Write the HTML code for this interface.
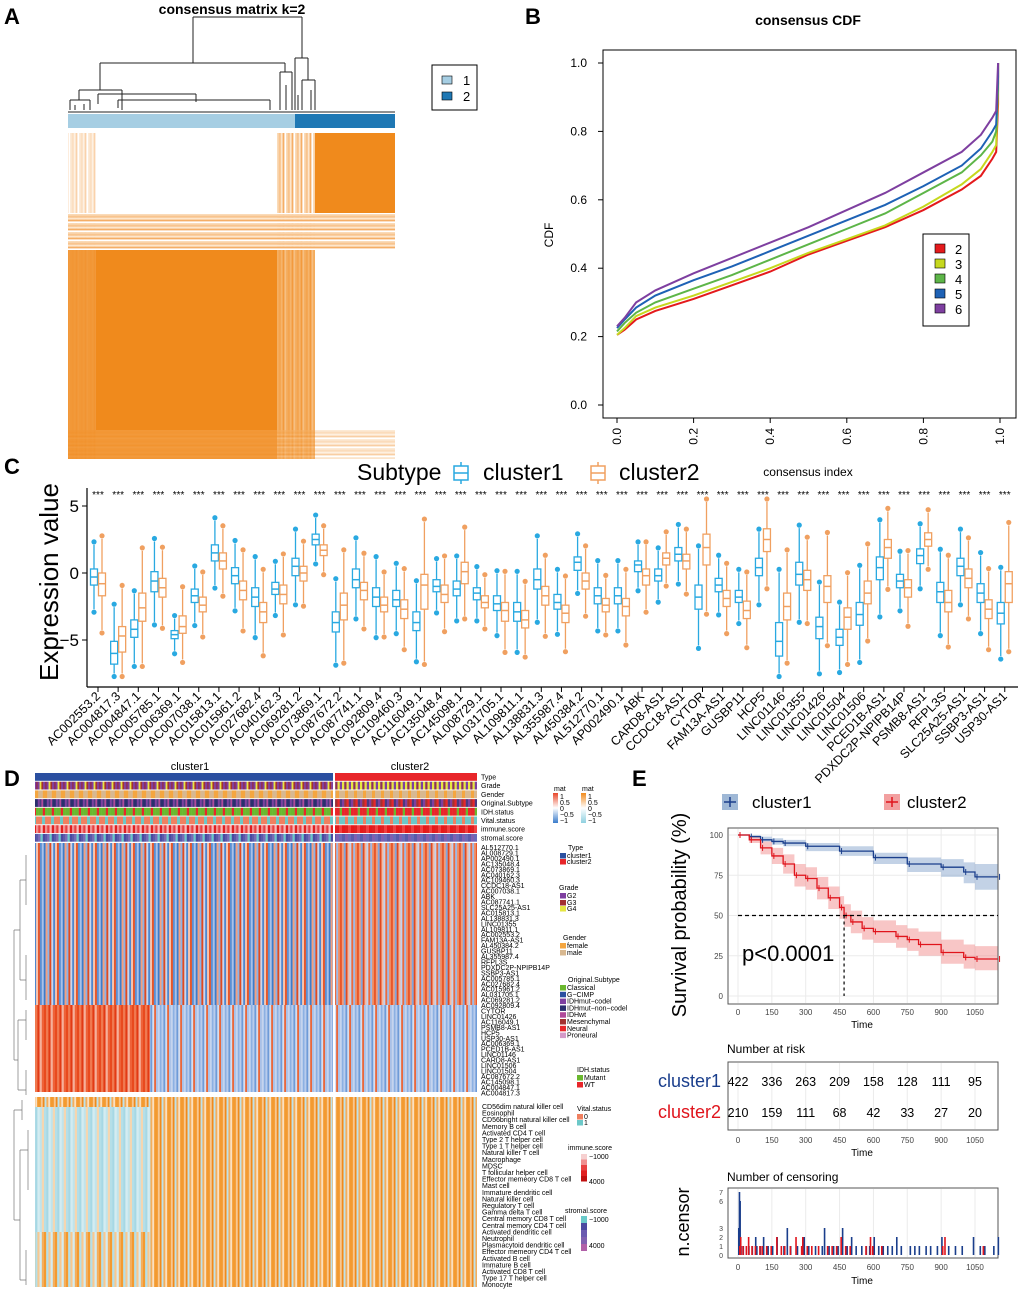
<!DOCTYPE html>
<html><head><meta charset="utf-8"><style>
body{margin:0;background:#fff}
svg{display:block;font-family:"Liberation Sans",sans-serif}
</style></head><body>
<svg id="fig" width="1020" height="1292" viewBox="0 0 1020 1292" xmlns="http://www.w3.org/2000/svg">
<defs id="defs"></defs>
<!-- Panel labels -->
<g font-weight="bold" font-size="22">
<text x="4" y="24">A</text>
<text x="525" y="24">B</text>
<text x="4" y="474">C</text>
<text x="4" y="786">D</text>
<text x="632" y="786">E</text>
</g>

<!-- Panel A -->
<g id="panelA">
<text x="232" y="14" text-anchor="middle" font-weight="bold" font-size="14">consensus matrix k=2</text>
<g stroke="#222" stroke-width="1" fill="none">
<path d="M193,17 H302 M193,17 V63 M302,17 V58"/>
<path d="M100,63 H285 M100,63 V90 M285,63 V72"/>
<path d="M79,90 H122 M79,90 V100 M122,90 V110"/>
<path d="M98,94 H196 M98,94 V104 M196,94 V102 M118,100 H270 M118,100 V108 M270,100 V110"/>
<path d="M295,58 H308 M295,58 V110 M308,58 V80 M302,80 H315 M302,80 V110 M315,80 V110"/>
<path d="M280,72 H292 M280,72 V110 M292,72 V110 M286,85 V110 M311,90 V110 M298,95 V110"/>
<path d="M70,100 H90 M70,100 V110 M90,100 V110 M75,105 V110 M84,104 V110"/>
<path d="M68,112 H395"/>
</g>
<rect x="68" y="114" width="227" height="14" fill="#A6CEE3"/>
<rect x="295" y="114" width="100" height="14" fill="#1F78B4"/>
<g>
<rect x="68" y="133" width="327" height="326" fill="#fff"/>
<rect x="68" y="133" width="28" height="326" fill="url(#pFr)" opacity="0.55"/>
<rect x="277" y="133" width="38" height="326" fill="url(#pFr)"/>
<rect x="68" y="213" width="327" height="37" fill="url(#pFrH)"/>
<rect x="68" y="430" width="327" height="29" fill="url(#pFrH)" opacity="0.6"/>
<rect x="315" y="133" width="80" height="80" fill="#F08A1C"/>
<rect x="96" y="250" width="181" height="180" fill="#F08A1C"/>
<rect x="68" y="250" width="28" height="180" fill="#F08A1C" opacity="0.85"/>
<rect x="68" y="430" width="209" height="29" fill="#F08A1C" opacity="0.85"/>
<rect x="277" y="250" width="38" height="209" fill="#F08A1C" opacity="0.55"/>
</g>
<g>
<rect x="432" y="65" width="45" height="45" fill="#fff" stroke="#000"/>
<rect x="442" y="76" width="10" height="8" fill="#A6CEE3" stroke="#000" stroke-width="0.6"/>
<rect x="442" y="92" width="10" height="8" fill="#1F78B4" stroke="#000" stroke-width="0.6"/>
<text x="463" y="85" font-size="13">1</text><text x="463" y="101" font-size="13">2</text>
</g>
</g>

<!-- Panel B -->
<g id="panelB">
<text x="808" y="25" text-anchor="middle" font-weight="bold" font-size="14">consensus CDF</text>
<rect x="603" y="50" width="413" height="368" fill="none" stroke="#000"/>
<text transform="translate(553,235) rotate(-90)" text-anchor="middle" font-size="12">CDF</text>
<text x="808" y="476" text-anchor="middle" font-size="12">consensus index</text>
<g id="cdfAxes"></g><g id="cdfLines"></g>
<g id="cdfLegend">
<rect x="923" y="234" width="46" height="92" fill="#fff" stroke="#000"/>
</g>
</g>

<!-- Panel C -->
<g id="panelC">
<g font-size="23">
<text x="357" y="480">Subtype</text>
<g><line x1="461" y1="462" x2="461" y2="484" stroke="#29A9E1" stroke-width="1.5"/><rect x="454" y="466" width="14" height="14" fill="#fff" stroke="#29A9E1" stroke-width="1.5"/><line x1="454" y1="473" x2="468" y2="473" stroke="#29A9E1" stroke-width="1.5"/><text x="483" y="480">cluster1</text></g>
<g><line x1="598" y1="462" x2="598" y2="484" stroke="#F0A060" stroke-width="1.5"/><rect x="591" y="466" width="14" height="14" fill="#fff" stroke="#F0A060" stroke-width="1.5"/><line x1="591" y1="473" x2="605" y2="473" stroke="#F0A060" stroke-width="1.5"/><text x="619" y="480">cluster2</text></g>
</g>
<text transform="translate(58,582) rotate(-90)" text-anchor="middle" font-size="26">Expression value</text>
<g id="boxAxes"></g><g id="boxes"></g>
</g>

<!-- Panel D -->
<g id="panelD">
<text x="190" y="770" text-anchor="middle" font-size="11">cluster1</text>
<text x="410" y="770" text-anchor="middle" font-size="11">cluster2</text>
<g id="annRows"></g>
<g>
<rect x="35" y="843" width="298" height="162" fill="url(#pMix1)"/>
<rect x="335" y="843" width="142" height="162" fill="url(#pMix2)"/>
<rect x="35" y="1005" width="115" height="87" fill="url(#pRed)"/>
<rect x="150" y="1005" width="183" height="87" fill="url(#pBlue)"/>
<rect x="335" y="1005" width="142" height="87" fill="url(#pBlue)"/>
</g>
<g>
<rect x="35" y="1097" width="115" height="10" fill="url(#pOr)"/>
<rect x="35" y="1107" width="115" height="125" fill="url(#pCy)"/>
<rect x="35" y="1232" width="115" height="55" fill="url(#pOrCy)"/>
<rect x="150" y="1097" width="183" height="190" fill="url(#pOr)"/>
<rect x="335" y="1097" width="142" height="190" fill="url(#pOr)"/>
</g>
<g stroke="#777" stroke-width="0.7" fill="none">
<path d="M14,930 V1060 M14,930 H20 M14,1060 H18 M20,880 V980 M20,880 H26 M20,980 H26 M26,855 V905 M26,955 V1000 M18,1020 V1090 M18,1020 H26 M18,1090 H26 M26,1010 V1040 M26,1070 V1095"/>
<path d="M14,1110 V1220 M14,1110 H22 M14,1220 H20 M22,1100 V1120 M20,1150 V1280 M20,1150 H28 M20,1280 H26 M28,1130 V1190 M26,1250 V1285"/>
</g>
<g id="dLabels" font-size="7"></g>
<g id="dLegend" font-size="7"></g>
</g>

<!-- Panel E -->
<g id="panelE">
<g font-size="17">
<rect x="722" y="794" width="16" height="16" fill="#9FB8D6"/><line x1="724" y1="802" x2="736" y2="802" stroke="#1A3E8C" stroke-width="1.5"/><line x1="730" y1="797" x2="730" y2="807" stroke="#1A3E8C" stroke-width="1.5"/>
<text x="752" y="808">cluster1</text>
<rect x="884" y="794" width="16" height="16" fill="#F2A0A0"/><line x1="886" y1="802" x2="898" y2="802" stroke="#E0141C" stroke-width="1.5"/><line x1="892" y1="797" x2="892" y2="807" stroke="#E0141C" stroke-width="1.5"/>
<text x="907" y="808">cluster2</text>
</g>
<text transform="translate(686,915) rotate(-90)" text-anchor="middle" font-size="20">Survival probability (%)</text>
<g id="kmPlot"></g>
<text x="727" y="1053" font-size="12">Number at risk</text>
<g id="riskTable"></g>
<text x="727" y="1181" font-size="12">Number of censoring</text>
<text transform="translate(689,1222) rotate(-90)" text-anchor="middle" font-size="18">n.censor</text>
<g id="censorPlot"></g>
</g>
</svg>
<script>
const NS='http://www.w3.org/2000/svg';
function mk(tag,attrs,parent){const e=document.createElementNS(NS,tag);for(const k in attrs)e.setAttribute(k,attrs[k]);if(parent)parent.appendChild(e);return e;}

// ===== Panel B data =====
const cdfX=[0,0.02,0.05,0.1,0.2,0.3,0.4,0.5,0.6,0.7,0.8,0.9,0.95,0.98,0.99,0.995];
const cdfK2=[0.205,0.22,0.25,0.275,0.31,0.35,0.39,0.44,0.48,0.52,0.57,0.63,0.67,0.72,0.74,0.88];
const cdfK3=[0.205,0.225,0.26,0.285,0.32,0.36,0.4,0.445,0.485,0.525,0.58,0.645,0.69,0.74,0.76,0.92];
const cdfK4=[0.215,0.24,0.27,0.3,0.34,0.38,0.425,0.47,0.515,0.56,0.62,0.68,0.73,0.77,0.8,0.94];
const cdfK5=[0.225,0.25,0.285,0.32,0.365,0.405,0.45,0.495,0.54,0.585,0.64,0.7,0.75,0.8,0.82,0.96];
const cdfK6=[0.23,0.255,0.3,0.335,0.385,0.43,0.475,0.52,0.57,0.62,0.68,0.74,0.79,0.84,0.86,1.0];
const cdfKs=['2','3','4','5','6'];
const cdfTicks=[0,0.2,0.4,0.6,0.8,1.0];
const cdfTickLabels=['0.0','0.2','0.4','0.6','0.8','1.0'];

// ===== Panel C data =====
const genes=['AC002553.2','AC004817.3','AC004847.1','AC005785.1','AC006369.1','AC007038.1','AC015813.1','AC015961.2','AC027682.4','AC040162.3','AC069281.2','AC073869.1','AC087672.2','AC087741.1','AC092809.4','AC109460.3','AC116049.1','AC135048.4','AC145098.1','AL008729.1','AL031705.1','AL109811.1','AL138831.3','AL355987.4','AL450384.2','AL512770.1','AP002490.1','ABK','CARD8-AS1','CCDC18-AS1','CYTOR','FAM13A-AS1','GUSBP11','HCP5','LINC01146','LINC01355','LINC01426','LINC01504','LINC01506','PCED1B-AS1','PDXDC2P-NPIPB14P','PSMB8-AS1','RFPL3S','SLC25A25-AS1','SSBP3-AS1','USP30-AS1'];
const med1=[-0.3,-6,-4.2,-0.6,-4.6,-1.7,1.5,-0.2,-1.8,-1.2,0.5,2.5,-3.7,-0.5,-1.8,-2.0,-3.7,-1.0,-1.2,-1.5,-2.3,-2.9,-0.5,-2.2,0.8,-1.7,-1.7,0.6,-0.2,1.4,-1.8,-0.9,-1.8,0.4,-5.1,-0.1,-4.0,-4.8,-3.1,0.4,-0.6,1.3,-1.4,0.5,-1.5,-3.0];
const med2=[-0.8,-4.7,-2.6,-1.1,-4.0,-2.4,0.9,-1.3,-2.9,-1.6,0,1.7,-2.4,-1.3,-2.4,-2.7,-0.9,-1.6,0.1,-2.2,-2.8,-3.5,-1.7,-3.0,-0.6,-2.4,-2.5,-0.2,1.1,0.9,1.9,-1.9,-2.8,2.5,-2.5,-0.5,-1.0,-3.3,-1.5,1.9,-1.1,2.5,-2.2,-0.4,-2.7,-0.8];
const q1c1=[-0.9,-6.8,-4.8,-1.4,-4.9,-2.2,0.9,-0.8,-2.5,-1.6,-0.2,2.1,-4.4,-1.1,-2.5,-2.5,-4.3,-1.4,-1.7,-2.0,-2.8,-3.6,-1.2,-2.7,0.2,-2.3,-2.3,0.1,-0.6,0.9,-2.7,-1.4,-2.2,-0.2,-6.2,-0.9,-4.9,-5.4,-3.9,-0.5,-1.1,0.7,-2.2,-0.2,-2.2,-3.8];
const q3c1=[0.3,-5.1,-3.5,0.1,-4.3,-1.2,2.1,0.4,-1.1,-0.7,1.1,2.9,-2.9,0.3,-1.1,-1.3,-2.9,-0.5,-0.6,-1.1,-1.7,-2.2,0.3,-1.6,1.2,-1.1,-1.1,0.9,0.3,1.9,-0.9,-0.4,-1.3,1.1,-3.7,0.8,-3.3,-4.2,-2.2,1.2,-0.1,1.8,-0.7,1.1,-0.8,-2.2];
const q1c2=[-1.7,-5.9,-3.6,-1.8,-4.5,-2.9,0.3,-2.0,-3.7,-2.3,-0.6,1.3,-3.5,-2.0,-2.9,-3.4,-2.7,-2.2,-0.8,-2.6,-3.6,-4.1,-2.4,-3.7,-1.2,-2.9,-3.2,-0.9,0.6,0.3,0.6,-2.5,-3.4,1.6,-3.5,-1.3,-2.2,-4.2,-2.3,1.1,-1.8,2.0,-2.9,-1.1,-3.4,-2.2];
const q3c2=[0.0,-4.0,-1.5,-0.4,-3.2,-1.8,1.5,-0.6,-2.2,-0.9,0.5,2.1,-1.5,-0.7,-1.8,-2.0,-0.1,-0.9,0.8,-1.7,-2.2,-2.8,-1.0,-2.4,0.0,-1.9,-1.9,0.3,1.5,1.4,2.9,-1.3,-2.1,3.3,-1.5,0.2,-0.2,-2.6,-0.6,2.5,-0.5,3.0,-1.3,0.3,-2.0,0.1];
const yTicksC=[-5,0,5];

// ===== Panel E data =====
const kmT1=[0,50,100,150,200,300,450,600,750,900,1000,1050,1150];
const kmS1=[100,99,97,96,95,93,90,86,82,80,77,74,74];
const kmLo1=[100,98,96,94,93,90,87,82,77,74,70,66,66];
const kmHi1=[100,100,99,98,97,95,93,89,86,85,83,82,82];
const kmT2=[0,50,100,150,200,250,300,350,400,450,470,500,550,600,700,750,800,900,1000,1050,1150];
const kmS2=[100,97,92,87,82,75,73,67,61,55,50,46,42,40,37,35,32,27,24,23,23];
const kmLo2=[100,95,88,82,76,68,66,60,54,48,43,39,35,33,30,28,25,20,17,16,16];
const kmHi2=[100,99,96,92,88,82,80,74,68,62,57,53,49,47,44,42,40,35,32,31,31];
const timeTicks=[0,150,300,450,600,750,900,1050];
const survTicks=[0,25,50,75,100];
const risk1=[422,336,263,209,158,128,111,95];
const risk2=[210,159,111,68,42,33,27,20];
const cens1T=[0,3,6,10,20,45,60,75,80,95,110,130,150,170,200,215,230,260,290,310,340,370,380,400,420,440,460,480,500,520,545,565,580,600,620,640,660,680,700,720,760,780,800,830,850,880,900,930,960,990,1040,1070,1090,1130,1150];
const cens1N=[3,7,6,1,1,1,1,2,1,1,2,1,1,2,1,3,1,1,2,1,1,1,3,1,1,1,3,1,2,1,1,1,1,2,1,1,1,1,2,1,1,1,1,1,1,1,2,1,1,1,2,1,1,1,2];
const cens2T=[1,5,15,30,40,55,70,90,100,120,140,165,185,200,225,250,275,280,300,320,350,390,410,430,450,470,490,560,580,590,630,900,910,1080];
const cens2N=[1,2,1,1,2,1,1,1,1,1,1,2,1,1,1,2,1,2,1,1,1,1,1,1,2,1,1,1,2,1,1,1,2,1];

// ===== Panel B draw =====
(function(){
 const ax=document.getElementById('cdfAxes'), ln=document.getElementById('cdfLines');
 const X=v=>617+v*383, Y=v=>405-v*342;
 const cols=['#E41A1C','#C6D81E','#5DB548','#1E62B5','#7E3FA0'];
 cdfTicks.forEach((t,i)=>{
  const l=mk('line',{x1:X(t),x2:X(t),y1:418,y2:423,stroke:'#000'},ax);
  
  const tx=mk('text',{transform:`translate(${X(t)+4},428) rotate(-90)`,'text-anchor':'end','font-size':'12'},ax);tx.textContent=cdfTickLabels[i];
  
  const l2=mk('line',{x1:598,x2:603,y1:Y(t),y2:Y(t),stroke:'#000'},ax);
  
  const ty=mk('text',{x:587,y:Y(t)+4,'text-anchor':'end','font-size':'12'},ax);ty.textContent=cdfTickLabels[i];
  
 });
 [cdfK2,cdfK3,cdfK4,cdfK5,cdfK6].forEach((s,k)=>{
  let d='';cdfX.forEach((x,i)=>{d+=(i?'L':'M')+X(x)+','+Y(s[i]);});
  d+='L'+X(0.995)+','+Y(1.0);
  const p=mk('path',{d:d,fill:'none',stroke:cols[k],'stroke-width':'2'},ln);
  
  const lg=document.getElementById('cdfLegend');
  const r=mk('rect',{x:935,y:244+k*15,width:10,height:9,fill:cols[k],stroke:'#000','stroke-width':'0.6'},lg);
  
  const t=mk('text',{x:955,y:254+k*15,'font-size':'13'},lg);t.textContent=cdfKs[k];
  
 });
})();

// ===== Panel C draw =====
(function(){
 const ax=document.getElementById('boxAxes'), g=document.getElementById('boxes');
 const X=i=>98+i*20.15, Y=v=>573-v*13.4;
 mk('line',{x1:87,x2:87,y1:488,y2:687,stroke:'#000','stroke-width':'1.2'},ax);
 mk('line',{x1:87,x2:1018,y1:687,y2:687,stroke:'#000','stroke-width':'1.2'},ax);
 yTicksC.forEach(t=>{
  const l=mk('line',{x1:82,x2:87,y1:Y(t),y2:Y(t),stroke:'#000'},ax);
  
  const tx=mk('text',{x:79,y:Y(t)+6,'text-anchor':'end','font-size':'17'},ax);tx.textContent=t===-5?'\u22125':String(t);
  
 });
 genes.forEach((gn,i)=>{
  const x=X(i);
  mk('line',{x1:x,x2:x,y1:687,y2:692,stroke:'#000'},ax);
  const tx=mk('text',{transform:`translate(${x+3},697) rotate(-45)`,'text-anchor':'end','font-size':'12.5'},ax);tx.textContent=gn;
  
  const st=mk('text',{x:x,y:498,'text-anchor':'middle','font-size':'10'},ax);st.textContent='***';
  
  [[med1,q1c1,q3c1,-4,'#29A9E1'],[med2,q1c2,q3c2,4,'#F0A060']].forEach(([m,q1,q3,off,c],k)=>{
   const cx=x+off, iqr=q3[i]-q1[i];
   const wl=Math.max(q1[i]-1.5*iqr,-7.5), wh=Math.min(q3[i]+1.5*iqr,5.3);
   const bg=mk('g',{},g);
   
   mk('line',{x1:cx,x2:cx,y1:Y(wh),y2:Y(wl),stroke:c,'stroke-width':'1.3'},bg);
   mk('rect',{x:cx-3.5,y:Y(q3[i]),width:7,height:Y(q1[i])-Y(q3[i]),fill:'#fff',stroke:c,'stroke-width':'1.3'},bg);
   mk('line',{x1:cx-3.5,x2:cx+3.5,y1:Y(m[i]),y2:Y(m[i]),stroke:c,'stroke-width':'1.5'},bg);
   mk('circle',{cx:cx,cy:Y(wl)+3,r:2.6,fill:c},bg);
   mk('circle',{cx:cx,cy:Y(wh)-3,r:2.6,fill:c},bg);
  });
 });
})();

// ===== Panel D: patterns & annotation rows (decorative textures) =====
(function(){
 const defs=document.getElementById('defs');
 function pat(id,w,cols,h){const p=mk('pattern',{id:id,width:w,height:h||50,patternUnits:'userSpaceOnUse'},defs);
  let x=0;const sw=w/cols.length;cols.forEach((c,i)=>{mk('rect',{x:x,y:0,width:sw+0.2,height:h||50,fill:c},p);x+=sw;});
  return p;}
 pat('pMix1',19,['#E8572A','#5B8FD3','#A9C1E8','#3D7CCB','#F3A080','#8FB2E4','#E04A20','#C9D6EE','#4E87CF','#F7C4AE'],6);
 pat('pMix2',17,['#E8572A','#F29A78','#7FA6DE','#E04A20','#F5B8A0','#C2D3EE','#EB6A3E','#9DB9E6','#F08A60'],6);
 pat('pRed',11,['#E84A1E','#F07A50','#E23A14','#F6B09A','#EE6238'],8);
 pat('pBlue',13,['#A9C1E8','#C5D4EE','#8CB0E2','#B9CCEC','#6F9BD8','#D3DEF1','#E8673C'],8);
 pat('pOr',13,['#F39A30','#F8C890','#F08A1C','#BEE2EA','#F4AE5C','#FBE0C0','#F39A30'],8);
 pat('pCy',11,['#B4DFE8','#A6D8E4','#D4ECF1','#C0E4EC','#F5D6B0'],8);
 pat('pOrCy',11,['#F39A30','#B4DFE8','#F8C890','#D4ECF1','#F4AE5C'],8);
 pat('pFr',9,['#F8C48E','#FDE6CC','#F5AE66','#FFFFFF','#F9D2A8'],40);
 const ph=mk('pattern',{id:'pFrH',width:40,height:9,patternUnits:'userSpaceOnUse'},defs);
 ['#F8C48E','#FDE6CC','#F5AE66','#FFFFFF','#F9D2A8'].forEach((c,i)=>mk('rect',{x:0,y:i*1.8,width:40,height:1.9,fill:c},ph));
 const rows=[
  ['Type',['#2B4FA0'],['#E8262A']],
  ['Grade',['#8E2E5E','#7E3FA0','#E6E640','#A33030','#7E3FA0'],['#E6E640','#8E2E5E','#E6E640','#7E3FA0']],
  ['Gender',['#F4A640','#D8B890','#D8B890','#F4A640'],['#D8B890','#F4A640','#D8B890']],
  ['Original.Subtype',['#2A2F6E','#7E3FA0','#4A3A80','#B04A9A','#2A2F6E'],['#7E3FA0','#A33030','#E8262A','#4A3A80']],
  ['IDH.status',['#6AB82E','#6AB82E','#6AB82E','#E8262A'],['#E8262A','#E8262A','#E8262A','#6AB82E']],
  ['Vital.status',['#F08060','#F08060','#6CC8C8'],['#6CC8C8','#F08060','#6CC8C8']],
  ['immune.score',['#F09090','#E84040','#F6B8B8','#E02020'],['#E81818','#E02020','#F04040']],
  ['stromal.score',['#5A5AAA','#7A6AB8','#6ACACA','#4A4AA0'],['#5A5AAA','#8060B0','#6A6AB8']]
 ];
 const ag=document.getElementById('annRows');
 rows.forEach((r,i)=>{
  pat('pa'+i+'a',9,r[1],10);pat('pa'+i+'b',9,r[2],10);
  const y=773+i*8.7;
  const a=mk('rect',{x:35,y:y,width:298,height:7.8,fill:'url(#pa'+i+'a)'},ag);
  
  const b=mk('rect',{x:335,y:y,width:142,height:7.8,fill:'url(#pa'+i+'b)'},ag);
  
  const t=mk('text',{x:481,y:y+6.5,'font-size':'7'},ag);t.textContent=r[0];
  
 });
 const lnc=['AL512770.1','AL008729.1','AP002490.1','AC135048.4','AC073869.1','AC040162.3','AC109460.3','CCDC18-AS1','AC007038.1','ABK','AC087741.1','SLC25A25-AS1','AC015813.1','AL138831.3','LINC01355','AL109811.1','AC002553.2','FAM13A-AS1','AL450384.2','GUSBP11','AL355987.4','RFPL3S','PDXDC2P-NPIPB14P','SSBP3-AS1','AC005785.1','AC027682.4','AC015961.2','AL031705.1','AC069281.2','AC092809.4','CYTOR','LINC01426','AC116049.1','PSMB8-AS1','HCP5','USP30-AS1','AC006369.1','PCED1B-AS1','LINC01146','CARD8-AS1','LINC01506','LINC01504','AC087672.2','AC145098.1','AC004847.1','AC004817.3'];
 const cells=['CD56dim natural killer cell','Eosinophil','CD56bright natural killer cell','Memory B cell','Activated CD4 T cell','Type 2 T helper cell','Type 1 T helper cell','Natural killer T cell','Macrophage','MDSC','T follicular helper cell','Effector memeory CD8 T cell','Mast cell','Immature dendritic cell','Natural killer cell','Regulatory T cell','Gamma delta T cell','Central memory CD8 T cell','Central memory CD4 T cell','Activated dendritic cell','Neutrophil','Plasmacytoid dendritic cell','Effector memeory CD4 T cell','Activated B cell','Immature  B cell','Activated CD8 T cell','Type 17 T helper cell','Monocyte'];
 const dl=document.getElementById('dLabels');
 lnc.forEach((n,i)=>{const t=mk('text',{x:481,y:850+i*5.45},dl);t.textContent=n;});
 cells.forEach((n,i)=>{const t=mk('text',{x:482,y:1109+i*6.6},dl);t.textContent=n;});
 const lg=document.getElementById('dLegend');
 function txt(x,y,s,fs){const t=mk('text',{x:x,y:y,'font-size':fs||7},lg);t.textContent=s;}
 function sw(x,y,c,w,h){const r=mk('rect',{x:x,y:y,width:w||6,height:h||5.5,fill:c},lg);}
 txt(554,791,'mat');txt(582,791,'mat');
 const g1=mk('linearGradient',{id:'gMat1',x1:0,y1:0,x2:0,y2:1},defs);
 [['0','#E8472A'],['0.5','#FFFFFF'],['1','#3A7CCB']].forEach(s=>mk('stop',{offset:s[0],'stop-color':s[1]},g1));
 const g2=mk('linearGradient',{id:'gMat2',x1:0,y1:0,x2:0,y2:1},defs);
 [['0','#F08A1C'],['0.5','#FFFFFF'],['1','#8FD0E0']].forEach(s=>mk('stop',{offset:s[0],'stop-color':s[1]},g2));
 sw(553,793,'url(#gMat1)',5,30);sw(581,793,'url(#gMat2)',5,30);
 txt(560,799,'1');txt(560,805,'0.5');txt(560,811,'0');txt(560,817,'\u22120.5');txt(560,823,'\u22121');
 txt(588,799,'1');txt(588,805,'0.5');txt(588,811,'0');txt(588,817,'\u22120.5');txt(588,823,'\u22121');
 txt(568,850,'Type');sw(560,853,'#2B4FA0');txt(567,858,'cluster1');sw(560,859,'#E8262A');txt(567,864,'cluster2');
 txt(559,890,'Grade');sw(560,893,'#7E3FA0');txt(567,898,'G2');sw(560,900,'#A33030');txt(567,905,'G3');sw(560,906,'#E6E640');txt(567,911,'G4');
 txt(563,940,'Gender');sw(560,943,'#F4A640');txt(567,948,'female');sw(560,950,'#D8B890');txt(567,955,'male');
 txt(568,982,'Original.Subtype');
 [['#6AB82E','Classical'],['#2B4FA0','G\u2212CIMP'],['#7E3FA0','IDHmut\u2212codel'],['#2A2F6E','IDHmut\u2212non\u2212codel'],['#B04A9A','IDHwt'],['#A33030','Mesenchymal'],['#E8262A','Neural'],['#D49AC8','Proneural']].forEach((e,i)=>{sw(560,985+i*6.8,e[0]);txt(567,990+i*6.8,e[1]);});
 txt(577,1072,'IDH.status');sw(577,1075,'#6AB82E');txt(584,1080,'Mutant');sw(577,1082,'#E8262A');txt(584,1087,'WT');
 txt(577,1111,'Vital.status');sw(577,1114,'#F08060');txt(584,1119,'0');sw(577,1120,'#6CC8C8');txt(584,1125,'1');
 txt(568,1150,'immune.score');['#F6D0D0','#F09090','#E84040','#E02020','#C01010'].forEach((c,i)=>sw(581,1154+i*5.5,c,6,5.5));txt(589,1159,'\u22121000');txt(589,1184,'4000');
 txt(565,1213,'stromal.score');['#6ACACA','#4A4AA0','#6A5AB0','#8060B0','#B060A8'].forEach((c,i)=>sw(581,1216+i*7,c,6,7));txt(589,1222,'\u22121000');txt(589,1248,'4000');
})();

// ===== Panel E draw =====
(function(){
 const g=document.getElementById('kmPlot');
 const X=t=>738+t*0.2257, Y=s=>996-s*1.61;
 mk('rect',{x:728,y:828,width:270,height:176,fill:'#fff',stroke:'#555'},g);
 timeTicks.forEach(t=>{mk('line',{x1:X(t),x2:X(t),y1:829,y2:1003,stroke:'#EBEBEB'},g);});
 survTicks.forEach(s=>{mk('line',{x1:729,x2:997,y1:Y(s),y2:Y(s),stroke:'#EBEBEB'},g);
  const l=mk('text',{x:723,y:Y(s)+3,'text-anchor':'end','font-size':'8',fill:'#444'},g);l.textContent=s;
  });
 timeTicks.forEach(t=>{const l=mk('text',{x:X(t),y:1015,'text-anchor':'middle','font-size':'8',fill:'#444'},g);l.textContent=t;
  });
 const xt=mk('text',{x:862,y:1028,'text-anchor':'middle','font-size':'10'},g);xt.textContent='Time';
 
 function band(T,lo,hi,c,name){let d='';T.forEach((t,i)=>{d+=(i?'L':'M')+X(t)+','+Y(hi[i]);if(i<T.length-1)d+='L'+X(T[i+1])+','+Y(hi[i]);});
  for(let i=T.length-1;i>=0;i--){if(i<T.length-1)d+='L'+X(T[i+1])+','+Y(lo[i]);d+='L'+X(T[i])+','+Y(lo[i]);}
  const p=mk('path',{d:d+'Z',fill:c,opacity:'0.45'},g);}
 function step(T,S,c,name){let d='';T.forEach((t,i)=>{d+=(i?'L'+X(t)+','+Y(S[i-1])+'L':'M')+X(t)+','+Y(S[i]);});
  const p=mk('path',{d:d,fill:'none',stroke:c,'stroke-width':'1.3'},g);
  T.forEach((t,i)=>{if(i%1===0){mk('line',{x1:X(t)+2,x2:X(t)+2,y1:Y(S[i])-3,y2:Y(S[i])+3,stroke:c,'stroke-width':'1'},g);}});}
 band(kmT1,kmLo1,kmHi1,'#7B9CC8','ci-band-cluster1');band(kmT2,kmLo2,kmHi2,'#F08080','ci-band-cluster2');
 step(kmT1,kmS1,'#1A3E8C','survival-curve-cluster1');step(kmT2,kmS2,'#E0141C','survival-curve-cluster2');
 mk('line',{x1:X(0),x2:998,y1:Y(50),y2:Y(50),stroke:'#000','stroke-dasharray':'4,3','stroke-width':'1.2'},g);
 mk('line',{x1:X(470),x2:X(470),y1:Y(50),y2:Y(0),stroke:'#000','stroke-dasharray':'3,3','stroke-width':'1.2'},g);
 const pv=mk('text',{x:742,y:961,'font-size':'22'},g);pv.textContent='p<0.0001';
 

 const r=document.getElementById('riskTable');
 mk('rect',{x:728,y:1062,width:270,height:68,fill:'#fff',stroke:'#555'},r);
 timeTicks.forEach((t,i)=>{mk('line',{x1:X(t),x2:X(t),y1:1063,y2:1129,stroke:'#EBEBEB'},r);
  const a=mk('text',{x:X(t),y:1086,'text-anchor':'middle','font-size':'12.5'},r);a.textContent=risk1[i];
  const b=mk('text',{x:X(t),y:1117,'text-anchor':'middle','font-size':'12.5'},r);b.textContent=risk2[i];
  const c=mk('text',{x:X(t),y:1143,'text-anchor':'middle','font-size':'8',fill:'#444'},r);c.textContent=t;});
 const l1=mk('text',{x:721,y:1087,'text-anchor':'end','font-size':'18',fill:'#1A3E8C'},r);l1.textContent='cluster1';
 const l2=mk('text',{x:721,y:1118,'text-anchor':'end','font-size':'18',fill:'#E0141C'},r);l2.textContent='cluster2';
 const rt=mk('text',{x:862,y:1156,'text-anchor':'middle','font-size':'10'},r);rt.textContent='Time';

 const c=document.getElementById('censorPlot');
 const YC=n=>1255-n*9;
 mk('rect',{x:728,y:1188,width:270,height:70,fill:'#fff',stroke:'#555'},c);
 timeTicks.forEach(t=>{mk('line',{x1:X(t),x2:X(t),y1:1189,y2:1257,stroke:'#EBEBEB'},c);
  const l=mk('text',{x:X(t),y:1270,'text-anchor':'middle','font-size':'8',fill:'#444'},c);l.textContent=t;});
 [0,1,2,3,6,7].forEach(n=>{const l=mk('text',{x:723,y:YC(n)+3,'text-anchor':'end','font-size':'7',fill:'#444'},c);l.textContent=n;});
 cens1T.forEach((t,i)=>{const b=mk('rect',{x:X(t),y:YC(cens1N[i]),width:1.6,height:cens1N[i]*9,fill:'#1A3E8C'},c);});
 cens2T.forEach((t,i)=>{const b=mk('rect',{x:X(t)+0.8,y:YC(cens2N[i]),width:1.6,height:cens2N[i]*9,fill:'#E0141C'},c);});
 const ct=mk('text',{x:862,y:1284,'text-anchor':'middle','font-size':'10'},c);ct.textContent='Time';
})();
</script>
</body></html>
